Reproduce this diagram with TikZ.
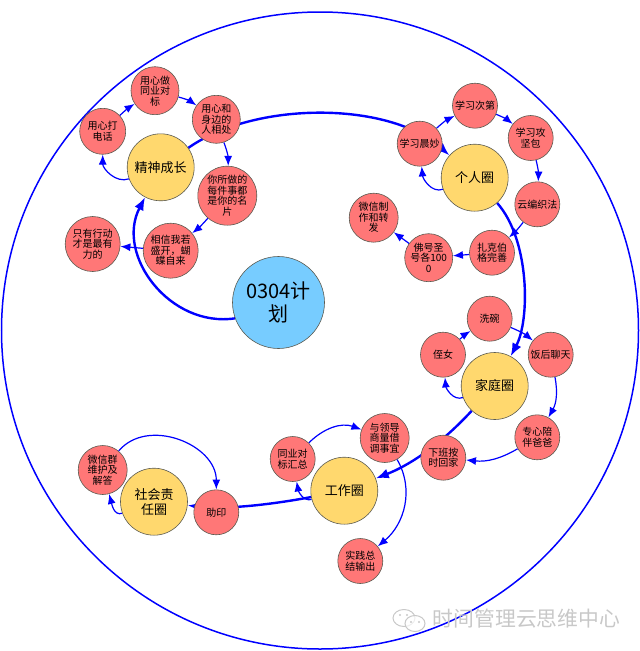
\documentclass[tikz,border=0pt]{standalone}
\usepackage{fontspec}
\setmainfont{Noto Sans CJK SC}
\usepackage{xcolor}
\usepackage{tikz}
\usetikzlibrary{arrows.meta,backgrounds}
\definecolor{leafred}{HTML}{FF7777}
\definecolor{hubyellow}{HTML}{FFD86E}
\definecolor{rootblue}{HTML}{77CCFF}
\definecolor{linkblue}{HTML}{0000FF}
\definecolor{nodeline}{HTML}{5A5A50}
\definecolor{markgray}{HTML}{C8C8C8}

\begin{document}
\begin{tikzpicture}[x=1pt,y=-1pt,
   leaf/.style={circle,draw=nodeline,line width=.6pt,fill=leafred,inner sep=-6pt,align=center,
               font=\fontsize{10}{10.5}\selectfont,minimum size=#1},
   leaf/.default=45pt,
   hub/.style={circle,draw=nodeline,line width=.6pt,fill=hubyellow,inner sep=-6pt,align=center,
               font=\fontsize{13}{15}\selectfont,minimum size=67pt},
   root/.style={circle,draw=nodeline,line width=.6pt,fill=rootblue,inner sep=0pt,align=center,
               font=\fontsize{20}{23}\selectfont,minimum size=92pt},
   link/.style={-{Latex[length=10pt,width=8pt]},draw=linkblue,line width=1.2pt},
   trunk/.style={-{Latex[length=13pt,width=10pt]},draw=linkblue,line width=2.4pt}]
  \useasboundingbox (0,0) rectangle (640,651);
  \node[circle,draw=linkblue,line width=1.5pt,minimum size=637pt] (outer) at (320,330.5) {};
  \node[root] (main) at (278.5,302.5) {0304计\\划};

  % spirit
  \node[hub] (spirit) at (160.7,167.3) {精神成长};
  \node[leaf=46pt] (phone) at (102.7,131.3) {用心打\\电话};
  \node[leaf=48pt] (peer) at (155,90.7) {用心做\\同业对\\标};
  \node[leaf=48pt] (people) at (216.3,119.3) {用心和\\身边的\\人相处};
  \node[leaf=59pt] (card) at (227.3,195.7) {你所做的\\每件事都\\是你的名\\片};
  \node[leaf=55pt] (bloom) at (170.7,250.7) {相信我若\\盛开，蝴\\蝶自来};
  \node[leaf=55pt] (act) at (92.7,244) {只有行动\\才是最有\\力的};

  % self
  \node[hub] (self) at (474.7,177.7) {个人圈};
  \node[leaf] (morning) at (419.7,143.7) {学习晨妙};
  \node[leaf] (order) at (475,105.7) {学习次第};
  \node[leaf] (pack) at (530.7,138) {学习攻\\坚包};
  \node[leaf] (cloud) at (537.3,204.3) {云编织法};
  \node[leaf] (zuck) at (492,252.7) {扎克伯\\格完善};
  \node[leaf=48pt] (chant) at (428.7,257.7) {佛号圣\\号各100\\0};
  \node[leaf=49pt] (wechat) at (373.7,217.7) {微信制\\作和转\\发};

  % family
  \node[hub] (family) at (494.7,386) {家庭圈};
  \node[leaf] (dishes) at (489.7,318.7) {洗碗};
  \node[leaf] (chat) at (550.7,354.7) {饭后聊天};
  \node[leaf] (niece) at (443,354.7) {侄女};
  \node[leaf] (father) at (537.3,437.3) {专心陪\\伴爸爸};
  \node[leaf] (home) at (443.3,457.7) {下班按\\时回家};

  % work
  \node[hub] (work) at (344.3,490.7) {工作圈};
  \node[leaf] (report) at (292.7,459) {同业对\\标汇总};
  \node[leaf=49pt] (leader) at (384.7,438) {与领导\\商量借\\调事宜};
  \node[leaf] (output) at (360.3,561) {实践总\\结输出};

  % society
  \node[hub] (society) at (154,501.7) {社会责\\任圈};
  \node[leaf] (print) at (216.3,512.3) {助印};
  \node[leaf=49pt] (group) at (102.7,470) {微信群\\维护及\\解答};

  \begin{scope}[on background layer]
    \draw[trunk] (main.200) .. controls (170,328) and (115,255) .. (spirit);
    \draw[trunk] (spirit) .. controls (255,101) and (388,101) .. (self);
    \draw[trunk] (self) .. controls (530,240) and (530,320) .. (family);
    \draw[trunk] (family) .. controls (440,445) and (410,465) .. (work);
    \draw[trunk] (work) .. controls (280,503) and (230,510) .. (society);

    \draw[link] (spirit) to[out=200,in=-90] (phone);
    \draw[link] (phone) to[bend left=5] (peer);
    \draw[link] (peer) to[bend left=10] (people);
    \draw[link] (people) to[bend left=10] (card);
    \draw[link] (card) to[bend left=5] (bloom);
    \draw[link] (bloom) to (act);

    \draw[link] (self) to[out=200,in=-85] (morning);
    \draw[link] (morning) to[bend left=8] (order);
    \draw[link] (order) to[bend left=8] (pack);
    \draw[link] (pack) to[bend left=8] (cloud);
    \draw[link] (cloud) to[bend left=5] (zuck);
    \draw[link] (zuck) to (chant);
    \draw[link] (chant) to (wechat);

    \draw[link] (family) to[out=200,in=-85] (niece);
    \draw[link] (niece) to[bend left=5] (dishes);
    \draw[link] (dishes) to[bend left=8] (chat);
    \draw[link] (chat) to[bend left=20] (father);
    \draw[link] (father) to[bend left=18] (home);

    \draw[link] (work) to[out=195,in=-80] (report);
    \draw[link] (report) to[out=45,in=160] (leader);
    \draw[link] (leader) to[out=-60,in=40] (output);

    \draw[link] (society) to[out=200,in=-75] (group);
    \draw[link] (group) to[out=50,in=90,looseness=1.1] (print);
  \end{scope}

  % watermark
  \draw[markgray,line width=1pt] (404,618) ellipse (11pt and 8.5pt);
  \draw[markgray,line width=1pt,fill=white,fill opacity=.7] (415,623.5) ellipse (10pt and 8pt);
  \foreach \eyex/\eyey in {400/615,407/615,411/622,419/622}
    \fill[markgray] (\eyex,\eyey) circle (1.1pt);
  \node[text=markgray,font=\fontsize{20.8}{22}\selectfont,inner sep=0pt] (mark) at (526.5,619) {时间管理云思维中心};
\end{tikzpicture}
\end{document}
